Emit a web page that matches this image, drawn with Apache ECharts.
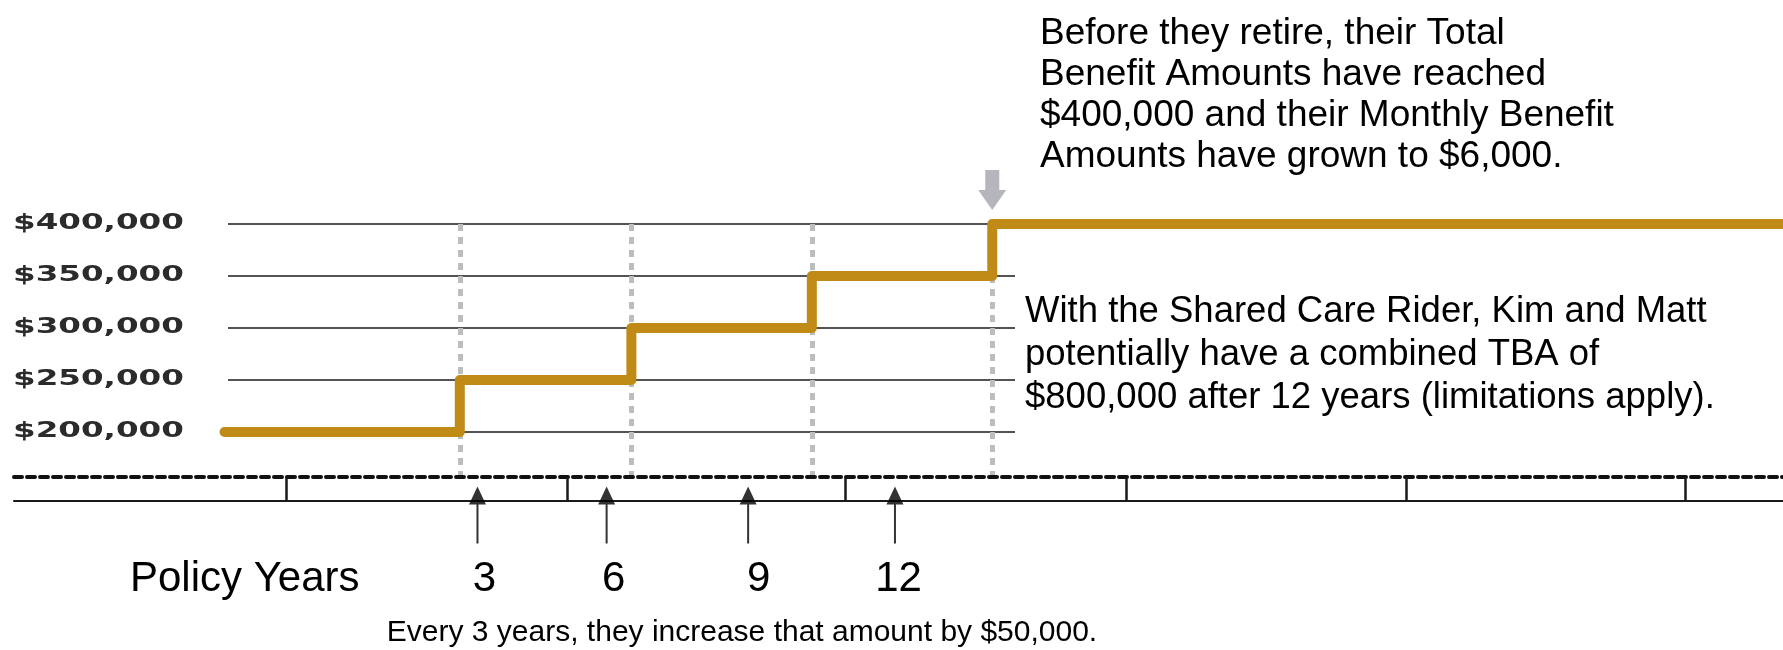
<!DOCTYPE html>
<html>
<head>
<meta charset="utf-8">
<title>Total Benefit Amount growth</title>
<script src="https://cdn.jsdelivr.net/npm/echarts@6/dist/echarts.min.js"></script>
<style>
  html, body { margin: 0; padding: 0; background: #fff; }
  #chart { width: 1783px; height: 650px; }
</style>
</head>
<body>
<div id="chart"></div>
<script>
// x values are positions along the timeline, in % of its length
const stepX = [11.9, 25.2, 34.9, 45.1, 55.3, 100];
const stepTBA = [200000, 250000, 300000, 350000, 400000, 400000];
const tbaTicks = [200000, 250000, 300000, 350000, 400000];

const timelineTicks = [15.4, 31.3, 47.0, 62.9, 78.7, 94.5];
const yearArrowX = [26.2, 33.5, 41.5, 49.8];
const yearLabelX = [26.6, 33.9, 42.1, 50.0];
const yearLabels = ['3', '6', '9', '12'];

const noteTop = [
    'Before they retire, their Total',
    'Benefit Amounts have reached',
    '$400,000 and their Monthly Benefit',
    'Amounts have grown to $6,000.'
];
const noteRight = [
    'With the Shared Care Rider, Kim and Matt',
    'potentially have a combined TBA of',
    '$800,000 after 12 years (limitations apply).'
];
const noteBottom = 'Every 3 years, they increase that amount by $50,000.';

const GOLD = '#BF8A16';
const TEXT_FONT = '"Liberation Sans", Arial, sans-serif';

const upArrow = 'path://M8.5,0 L17,18 L9.5,18 L9.5,57 L7.5,57 L7.5,18 L0,18 Z';
const downArrow = 'path://M7,0 L21,0 L21,20 L28,20 L14,40 L0,20 L7,20 Z';

const chart = echarts.init(document.getElementById('chart'));

const hidden = { show: false };
const tbaMin = tbaTicks[0];
const tbaMax = tbaTicks[tbaTicks.length - 1];
const tbaStep = tbaTicks[1] - tbaTicks[0];

const notes = [
    {
        type: 'text', left: 1040, top: 13, silent: true,
        style: { text: noteTop.join('\n'), font: '37px ' + TEXT_FONT, fill: '#000', lineHeight: 41 }
    },
    {
        type: 'text', left: 1025, top: 291, silent: true,
        style: { text: noteRight.join('\n'), font: '36.5px ' + TEXT_FONT, fill: '#000', lineHeight: 42.6 }
    },
    {
        type: 'text', left: 130, top: 558, silent: true,
        style: { text: 'Policy Years', font: '42px ' + TEXT_FONT, fill: '#000', lineHeight: 42 }
    },
    {
        type: 'text', x: 742, y: 633, silent: true,
        style: { text: noteBottom, font: '30px ' + TEXT_FONT, fill: '#000', align: 'center', verticalAlign: 'middle' }
    }
];

const option = {
    animation: false,
    backgroundColor: '#fff',
    grid: [
        // grid lines
        { left: 228, right: 768, top: 224, bottom: 218 },
        // step line
        { left: 14, right: 0, top: 224, bottom: 218 },
        // dotted verticals down to the timeline
        { left: 14, right: 0, top: 224, bottom: 173 },
        // timeline band
        { left: 14, right: 0, top: 477, bottom: 149 }
    ],
    xAxis: [
        { gridIndex: 0, type: 'value', min: 0, max: 100, show: false },
        { gridIndex: 1, type: 'value', min: 0, max: 100, show: false },
        {
            gridIndex: 2, type: 'value', min: 0, max: 100,
            axisLine: hidden, axisLabel: hidden,
            axisTick: { show: false, customValues: stepX.slice(1, 5) },
            splitLine: {
                show: true,
                lineStyle: { color: '#bdbdbd', width: 5, type: [7, 6] }
            }
        },
        {
            gridIndex: 3, type: 'value', min: 0, max: 100, position: 'bottom',
            axisLine: { show: true, lineStyle: { color: '#1a1a1a', width: 2 } },
            axisTick: {
                show: true, inside: true, length: 24,
                customValues: timelineTicks,
                lineStyle: { color: '#1a1a1a', width: 2.5 }
            },
            axisLabel: {
                show: true,
                customValues: yearLabelX,
                formatter: (v) => yearLabels[yearLabelX.indexOf(v)],
                margin: 57,
                fontFamily: TEXT_FONT,
                fontSize: 42,
                lineHeight: 42,
                color: '#000'
            },
            splitLine: hidden
        },
        {
            gridIndex: 3, type: 'value', min: 0, max: 100, position: 'top',
            axisLine: { show: true, lineStyle: { color: '#111', width: 4, type: [8, 5] } },
            axisTick: hidden, axisLabel: hidden, splitLine: hidden
        }
    ],
    yAxis: [
        {
            gridIndex: 0, type: 'value', min: tbaMin, max: tbaMax, interval: tbaStep,
            axisLine: hidden, axisTick: hidden, axisLabel: hidden,
            splitLine: { show: true, lineStyle: { color: '#1a1a1a', width: 1.5 } }
        },
        { gridIndex: 1, type: 'value', min: tbaMin, max: tbaMax, show: false },
        { gridIndex: 2, type: 'value', min: 0, max: 1, show: false },
        { gridIndex: 3, type: 'value', min: 0, max: 1, show: false }
    ],
    series: [
        {
            name: 'Total Benefit Amount',
            type: 'line',
            xAxisIndex: 1,
            yAxisIndex: 1,
            step: 'end',
            clip: false,
            symbol: 'none',
            data: stepX.map((x, i) => [x, stepTBA[i]]),
            lineStyle: { color: GOLD, width: 10, cap: 'round', join: 'round' },
            markPoint: {
                silent: true,
                symbol: downArrow,
                symbolSize: [28, 40],
                symbolOffset: [0, -34],
                itemStyle: { color: '#b5b5bd' },
                label: { show: false },
                data: [{ coord: [stepX[4], stepTBA[4]] }]
            }
        },
        {
            name: 'Policy year markers',
            type: 'scatter',
            xAxisIndex: 3,
            yAxisIndex: 3,
            silent: true,
            clip: false,
            data: yearArrowX.map((x) => [x, 0]),
            symbol: upArrow,
            symbolSize: [17, 57],
            symbolOffset: [0, 14],
            itemStyle: { color: '#000' }
        }
    ],
    graphic: notes
};

chart.setOption(option);

// dollar labels: the original lettering is very wide, so the text is
// stretched horizontally; its height comes from the y axis scale
const dollarLabels = tbaTicks.map((v) => ({
    type: 'text',
    silent: true,
    x: 13,
    y: chart.convertToPixel({ yAxisIndex: 0 }, v),
    scaleX: 1.55,
    style: {
        text: '$' + v.toLocaleString('en-US'),
        font: 'bold 21px "DejaVu Sans", Verdana, sans-serif',
        fill: '#2b2b2b',
        align: 'left',
        verticalAlign: 'middle'
    }
}));

chart.setOption({ graphic: notes.concat(dollarLabels) });

window.addEventListener('resize', () => {
    chart.resize();
});
</script>
</body>
</html>
